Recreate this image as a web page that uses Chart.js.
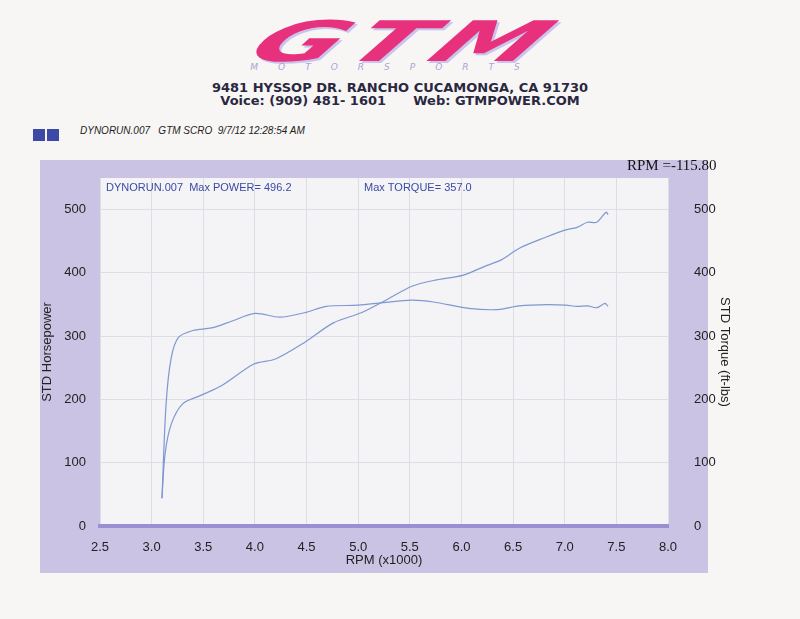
<!DOCTYPE html>
<html>
<head>
<meta charset="utf-8">
<script src="https://cdn.jsdelivr.net/npm/chart.js@4/dist/chart.umd.min.js"></script>
<style>
  body { margin: 0; width: 800px; height: 619px; background: #f7f6f4; position: relative; overflow: hidden; font-family: "Liberation Sans", Arial, sans-serif; }
  #logo { position: absolute; left: 222px; top: 14px; width: 370px; text-align: center; font: italic 900 56px "DejaVu Sans", sans-serif; color: #e8317d; letter-spacing: 6px; transform: scaleX(1.9) skewX(-22deg); text-shadow: 2px 2px 0 #c9c4ee; line-height: 56px; }
  #sub { position: absolute; left: 225px; top: 62px; width: 340px; text-align: center; font: italic 9px "DejaVu Sans", sans-serif; color: #a9a4d8; letter-spacing: 20px; }
  .addr { position: absolute; left: 0; width: 800px; text-align: center; font: bold 13px "DejaVu Sans", sans-serif; color: #2a2840; }
  #squares { position: absolute; left: 33px; top: 127px; }
  #squares span { display: inline-block; width: 12px; height: 12px; background: #3c4aa6; margin-right: 2px; }
  #runinfo { position: absolute; left: 80px; top: 125px; font: italic 10px "Liberation Sans", Arial, sans-serif; color: #222; }
  canvas { position: absolute; left: 0; top: 0; }
</style>
</head>
<body>
<div id="logo">GTM</div>
<div id="sub">MOTORSPORTS</div>
<div class="addr" style="top:80px">9481 HYSSOP DR. RANCHO CUCAMONGA, CA 91730</div>
<div class="addr" style="top:93px">Voice: (909) 481- 1601 &nbsp;&nbsp;&nbsp;&nbsp; Web: GTMPOWER.COM</div>
<div id="squares"><span></span><span></span></div>
<div id="runinfo">DYNORUN.007 &nbsp; GTM SCRO &nbsp;9/7/12 12:28:54 AM</div>
<canvas id="dyno" width="800" height="619"></canvas>
<script>
// dyno run data, rpm in thousands
const torqueRpm = [3.10, 3.14, 3.19, 3.26, 3.40, 3.58, 3.78, 4.00, 4.24, 4.48, 4.69, 5.00, 5.24, 5.52, 5.73, 6.07, 6.35, 6.56, 6.84, 7.01, 7.12, 7.22, 7.31, 7.39, 7.42];
const torqueVals = [44, 193, 266, 298, 309, 313, 324, 336, 330, 337, 347, 349, 353, 357, 354, 344, 342, 348, 350, 349, 347, 348, 345, 352, 347];
const powerRpm = [3.10, 3.13, 3.19, 3.30, 3.47, 3.68, 3.99, 4.20, 4.48, 4.76, 5.03, 5.28, 5.52, 5.76, 6.01, 6.22, 6.39, 6.56, 6.81, 7.01, 7.12, 7.22, 7.31, 7.40, 7.42];
const powerVals = [44, 114, 161, 193, 206, 222, 256, 264, 290, 321, 337, 358, 379, 389, 396, 410, 421, 439, 456, 468, 472, 480, 480, 496, 492];

const lineColor = '#7f98d2';

const toPoints = (xs, ys) => xs.map((x, i) => ({ x: x, y: ys[i] }));

// lavender frame, white plot area and the printed labels
const sheetPlugin = {
  id: 'sheet',
  beforeDraw(chart) {
    const ctx = chart.ctx;
    const a = chart.chartArea;
    ctx.save();
    ctx.fillStyle = '#cbc3e4';
    ctx.fillRect(40, 160, 668, 413);
    ctx.fillStyle = '#f4f3f6';
    ctx.fillRect(a.left, a.top, a.right - a.left, a.bottom - a.top);
    ctx.restore();
  },
  afterDraw(chart) {
    const ctx = chart.ctx;
    ctx.save();
    ctx.fillStyle = '#3c4aa6';
    ctx.font = '11px "Liberation Sans", Arial';
    ctx.textBaseline = 'middle';
    ctx.fillText('DYNORUN.007  Max POWER= 496.2', 106, 188);
    ctx.fillText('Max TORQUE= 357.0', 364, 188);
    ctx.fillStyle = '#111';
    ctx.font = '15px "Liberation Serif", serif';
    ctx.fillText('RPM =-115.80', 627, 166);
    ctx.restore();
  }
};

new Chart(document.getElementById('dyno'), {
  type: 'scatter',
  data: {
    datasets: [
      { label: 'STD Torque', data: toPoints(torqueRpm, torqueVals), showLine: true, borderColor: lineColor, borderWidth: 1.2, pointRadius: 0, tension: 0.3, yAxisID: 'y' },
      { label: 'STD Horsepower', data: toPoints(powerRpm, powerVals), showLine: true, borderColor: lineColor, borderWidth: 1.2, pointRadius: 0, tension: 0.3, yAxisID: 'y' }
    ]
  },
  options: {
    responsive: false,
    animation: false,
    layout: { padding: { left: 40, right: 68, top: 178, bottom: 47 } },
    plugins: { legend: { display: false }, tooltip: { enabled: false } },
    scales: {
      x: {
        type: 'linear', min: 2.5, max: 8.0,
        afterFit: s => { s.height = 46; },
        grid: { color: '#dddde6', drawTicks: false },
        border: { color: '#9a8fd2', width: 4 },
        ticks: { stepSize: 0.5, color: '#222', font: { size: 13 }, padding: 14, callback: v => v.toFixed(1) },
        title: { display: true, text: 'RPM (x1000)', color: '#222', font: { size: 13 }, padding: { top: 0 } }
      },
      y: {
        position: 'left', min: 0, max: 550,
        afterFit: s => { s.width = 60; },
        afterBuildTicks: s => { s.ticks = s.ticks.filter(t => t.value % 100 === 0); },
        grid: { color: '#dddde6', drawTicks: false },
        border: { display: false },
        ticks: { stepSize: 100, color: '#222', font: { size: 13 }, padding: 14 },
        title: { display: true, text: 'STD Horsepower', color: '#222', font: { size: 13 }, padding: 0 }
      },
      y2: {
        position: 'right', min: 0, max: 550,
        afterFit: s => { s.width = 64; },
        afterBuildTicks: s => { s.ticks = s.ticks.filter(t => t.value % 100 === 0); },
        grid: { display: false },
        border: { display: false },
        ticks: { stepSize: 100, color: '#222', font: { size: 13 }, padding: 18 },
        title: { display: true, text: 'STD Torque (ft-lbs)', color: '#222', font: { size: 13 }, padding: 0 }
      }
    }
  },
  plugins: [sheetPlugin]
});
</script>
</body>
</html>
